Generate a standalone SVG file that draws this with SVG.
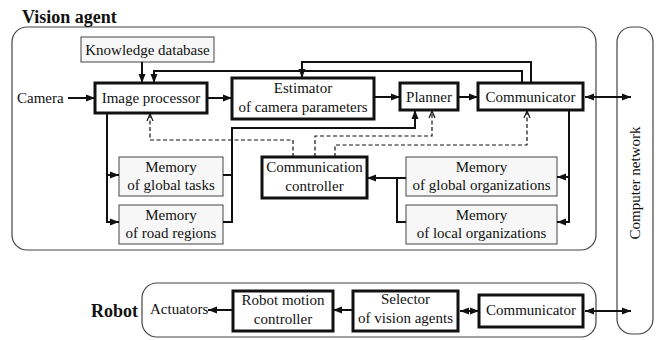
<svg xmlns="http://www.w3.org/2000/svg" width="658" height="340" viewBox="0 0 658 340" font-family="Liberation Serif, DejaVu Serif, serif">
<style>
text{font-family:'Liberation Serif','DejaVu Serif',serif;font-size:15px;fill:#111}
.t{text-anchor:middle}
.b{font-weight:bold;font-size:18px}
.thick{fill:#fff;stroke:#111;stroke-width:3}
.thin{fill:#f7f7f7;stroke:#444;stroke-width:1}
.outer{fill:none;stroke:#444;stroke-width:1.2}
.c{fill:none;stroke:#111;stroke-width:2}
.d{fill:none;stroke:#111;stroke-width:1.2;stroke-dasharray:4 2.5}
</style>
<defs>
<marker id="a" markerUnits="userSpaceOnUse" markerWidth="10" markerHeight="8" refX="9" refY="4" orient="auto-start-reverse"><path d="M0,0.5 L9,4 L0,7.5 Z" fill="#111"/></marker>
<marker id="o" markerUnits="userSpaceOnUse" markerWidth="8" markerHeight="8" refX="7" refY="4" orient="auto"><path d="M0,1 L7,4 L0,7" fill="none" stroke="#111" stroke-width="1.2"/></marker>
</defs>

<g id="vision-agent">
<rect class="outer" x="12" y="27" width="584" height="223" rx="15"/>
<text class="b" x="22" y="23">Vision agent</text>
</g>
<g id="computer-network">
<rect class="outer" x="617" y="27" width="36" height="307" rx="15"/>
<text class="t" transform="translate(640,183) rotate(-90)">Computer network</text>
</g>
<g id="robot">
<rect class="outer" x="142" y="283" width="454" height="54" rx="15"/>
<text class="b" x="91" y="317">Robot</text>
</g>

<g id="camera"><text x="17" y="103">Camera</text></g>
<g id="knowledge-database"><rect class="thin" x="81" y="37" width="133" height="25"/><text class="t" x="147.5" y="55">Knowledge database</text></g>
<g id="image-processor"><rect class="thick" x="95" y="83" width="112" height="30"/><text class="t" x="151" y="103">Image processor</text></g>
<g id="estimator"><rect class="thick" x="232" y="78" width="142" height="41"/><text class="t" x="303" y="93">Estimator</text><text class="t" x="303" y="112">of camera parameters</text></g>
<g id="planner"><rect class="thick" x="400" y="83" width="58" height="27"/><text class="t" x="429" y="102">Planner</text></g>
<g id="communicator"><rect class="thick" x="478" y="83" width="105" height="27"/><text class="t" x="530.5" y="102">Communicator</text></g>
<g id="memory-global-tasks"><rect class="thin" x="119" y="157" width="104" height="39"/><text class="t" x="171" y="172">Memory</text><text class="t" x="171" y="190">of global tasks</text></g>
<g id="memory-road-regions"><rect class="thin" x="119" y="205" width="104" height="39"/><text class="t" x="171" y="220">Memory</text><text class="t" x="171" y="238">of road regions</text></g>
<g id="communication-controller"><rect class="thick" x="262" y="157" width="105" height="41"/><text class="t" x="314.5" y="172">Communication</text><text class="t" x="314.5" y="191">controller</text></g>
<g id="memory-global-organizations"><rect class="thin" x="406" y="157" width="151" height="39"/><text class="t" x="481.5" y="172">Memory</text><text class="t" x="481.5" y="190">of global organizations</text></g>
<g id="memory-local-organizations"><rect class="thin" x="406" y="205" width="151" height="39"/><text class="t" x="481.5" y="220">Memory</text><text class="t" x="481.5" y="238">of local organizations</text></g>

<g id="actuators"><text x="150" y="314">Actuators</text></g>
<g id="robot-motion-controller"><rect class="thick" x="233" y="291" width="100" height="40"/><text class="t" x="283" y="305">Robot motion</text><text class="t" x="283" y="324">controller</text></g>
<g id="selector"><rect class="thick" x="353" y="291" width="105" height="40"/><text class="t" x="405.5" y="304">Selector</text><text class="t" x="405.5" y="323">of vision agents</text></g>
<g id="robot-communicator"><rect class="thick" x="479" y="295" width="104" height="32"/><text class="t" x="531" y="315">Communicator</text></g>

<g id="connectors">
<path class="c" d="M68,98 H95" marker-end="url(#a)"/>
<path class="c" d="M142,62 V83" marker-end="url(#a)"/>
<path class="c" d="M522,83 V71 H154 V83" marker-end="url(#a)"/>
<path class="c" d="M531,83 V62 H302 V78" marker-end="url(#a)"/>
<path class="c" d="M207,98 H232" marker-end="url(#a)"/>
<path class="c" d="M374,97 H400" marker-end="url(#a)"/>
<path class="c" d="M458,97 H478" marker-end="url(#a)"/>
<path class="c" d="M585,97 H631" marker-start="url(#a)" marker-end="url(#a)"/>
<path class="c" d="M107,113 V222 H119" marker-end="url(#a)"/>
<path class="c" d="M107,175 H119" marker-end="url(#a)"/>
<path class="c" d="M223,175 H232"/>
<path class="c" d="M223,222 H232 V128 H415 V110" marker-end="url(#a)"/>
<path class="c" d="M569,110 V222 H557" marker-end="url(#a)"/>
<path class="c" d="M569,177 H557" marker-end="url(#a)"/>
<path class="c" d="M406,178 H367" marker-end="url(#a)"/>
<path class="c" d="M406,222 H397 V178"/>
<path class="d" d="M293,157 V140 H150 V114" marker-end="url(#o)"/>
<path class="d" d="M315,157 V136 H432 V111" marker-end="url(#o)"/>
<path class="d" d="M335,157 V145 H527 V111" marker-end="url(#o)"/>
<path class="c" d="M233,310 H208" marker-end="url(#a)"/>
<path class="c" d="M353,310 H333" marker-end="url(#a)"/>
<path class="c" d="M460,311 H479" marker-start="url(#a)" marker-end="url(#a)"/>
<path class="c" d="M585,311 H631" marker-start="url(#a)" marker-end="url(#a)"/>
</g>
</svg>
